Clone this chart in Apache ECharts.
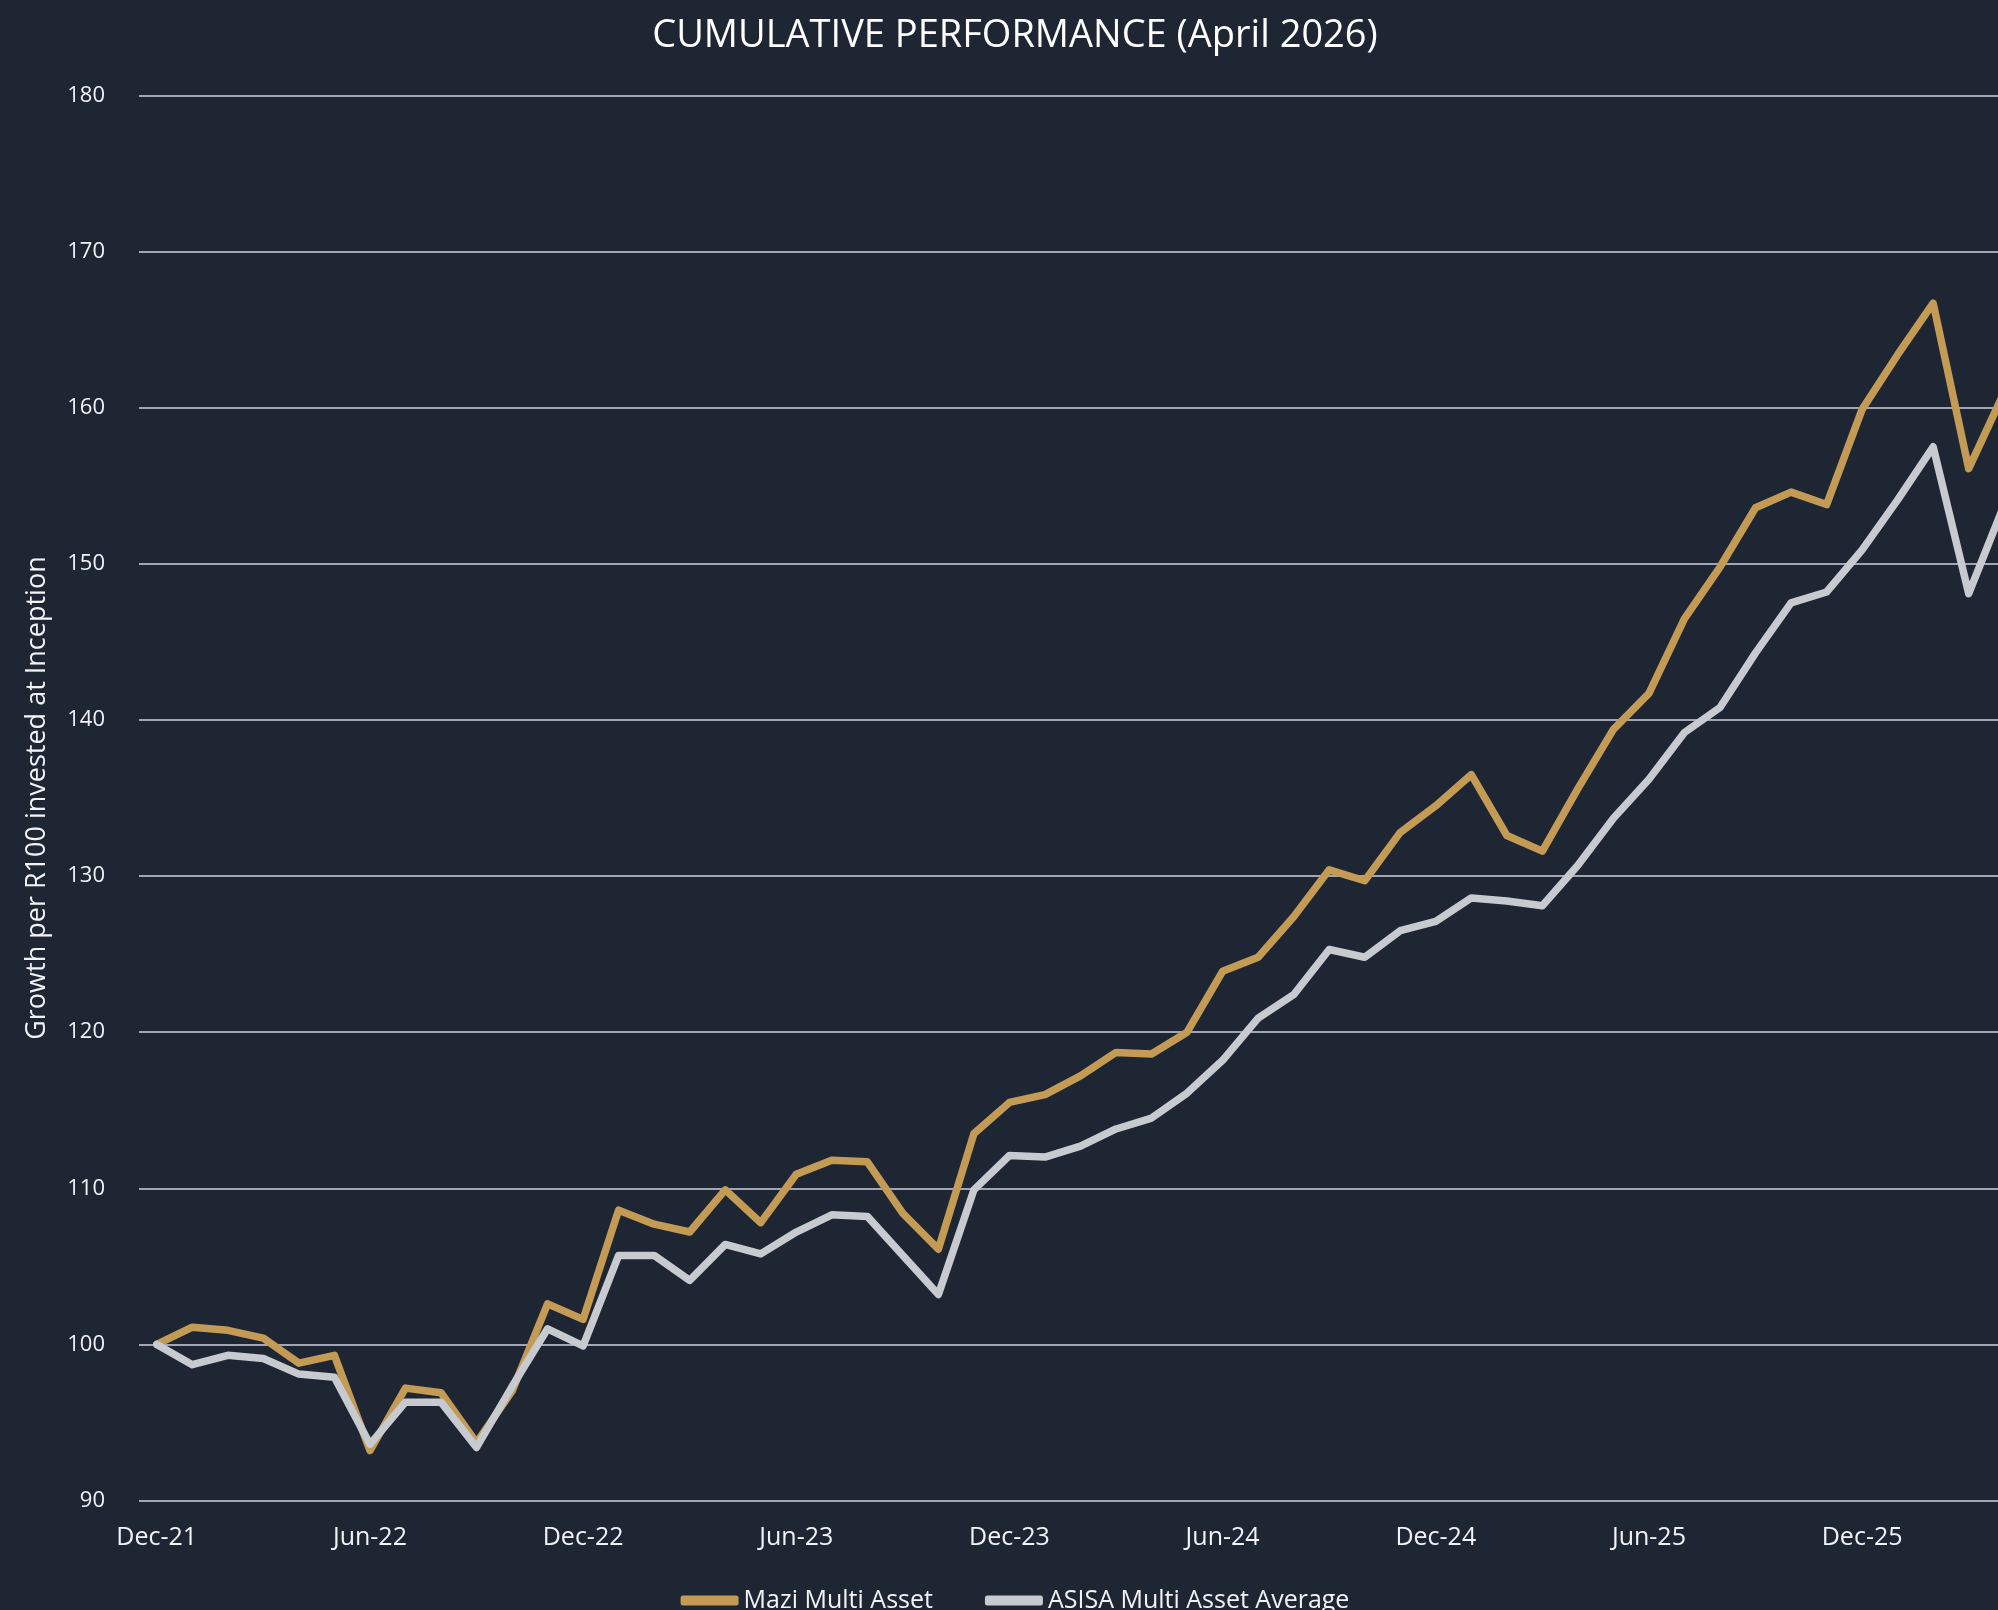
<!DOCTYPE html>
<html>
<head>
<meta charset="utf-8">
<title>Cumulative Performance</title>
<script src="https://cdn.jsdelivr.net/npm/echarts@6/dist/echarts.min.js"></script>
<style>
    html, body { margin: 0; padding: 0; background: #1e2633; overflow: hidden; }
    #chart { width: 2030px; height: 1610px; }
</style>
</head>
<body>
<div id="chart"></div>
<script>
// Month labels, Dec-21 .. Apr-26
const months = [
    'Dec-21', 'Jan-22', 'Feb-22', 'Mar-22', 'Apr-22', 'May-22', 'Jun-22', 'Jul-22', 'Aug-22', 'Sep-22', 'Oct-22', 'Nov-22',
    'Dec-22', 'Jan-23', 'Feb-23', 'Mar-23', 'Apr-23', 'May-23', 'Jun-23', 'Jul-23', 'Aug-23', 'Sep-23', 'Oct-23', 'Nov-23',
    'Dec-23', 'Jan-24', 'Feb-24', 'Mar-24', 'Apr-24', 'May-24', 'Jun-24', 'Jul-24', 'Aug-24', 'Sep-24', 'Oct-24', 'Nov-24',
    'Dec-24', 'Jan-25', 'Feb-25', 'Mar-25', 'Apr-25', 'May-25', 'Jun-25', 'Jul-25', 'Aug-25', 'Sep-25', 'Oct-25', 'Nov-25',
    'Dec-25', 'Jan-26', 'Feb-26', 'Mar-26', 'Apr-26'
];

// Growth per R100 invested
const maziMultiAsset = [
    100.0, 101.1, 100.9, 100.4, 98.8, 99.3, 93.2, 97.2, 96.9, 93.7, 97.0, 102.6,
    101.6, 108.6, 107.7, 107.2, 109.9, 107.8, 110.9, 111.8, 111.7, 108.4, 106.1, 113.5,
    115.5, 116.0, 117.2, 118.7, 118.6, 120.0, 123.9, 124.8, 127.4, 130.4, 129.7, 132.8,
    134.5, 136.5, 132.6, 131.6, 135.6, 139.4, 141.7, 146.5, 149.8, 153.6, 154.6, 153.8,
    159.9, 163.4, 166.7, 156.1, 161.0
];

const asisaAverage = [
    100.0, 98.7, 99.3, 99.1, 98.1, 97.9, 93.6, 96.3, 96.3, 93.4, 97.3, 101.0,
    99.9, 105.7, 105.7, 104.1, 106.4, 105.8, 107.2, 108.3, 108.2, 105.7, 103.2, 109.9,
    112.1, 112.0, 112.7, 113.8, 114.5, 116.1, 118.2, 120.9, 122.4, 125.3, 124.8, 126.5,
    127.1, 128.6, 128.4, 128.1, 130.7, 133.7, 136.2, 139.2, 140.8, 144.3, 147.5, 148.2,
    150.9, 154.1, 157.5, 148.1, 153.8
];

const FONT = '"Open Sans", sans-serif';
const TEXT = '#f2f3f6';
const GOLD = '#c39b55';
const GREY = '#c7cacf';

const chart = echarts.init(document.getElementById('chart'));
chart.setOption({
    backgroundColor: '#1e2633',
    animation: false,
    textStyle: { fontFamily: FONT },
    title: {
        text: 'CUMULATIVE PERFORMANCE (April 2026)',
        left: 'center',
        top: 12,
        textStyle: { color: '#ffffff', fontSize: 38, fontWeight: 'normal', fontFamily: FONT }
    },
    legend: {
        left: 'center',
        top: 1583,
        icon: 'roundRect',
        itemWidth: 58,
        itemHeight: 10,
        itemGap: 52,
        textStyle: { color: TEXT, fontSize: 25, fontFamily: FONT },
        data: ['Mazi Multi Asset', 'ASISA Multi Asset Average']
    },
    grid: {
        left: 139,
        right: 8,
        top: 95.6,
        bottom: 109.5,
        outerBoundsMode: 'none'
    },
    xAxis: {
        type: 'category',
        data: months,
        boundaryGap: true,
        axisLine: { show: false },
        axisTick: { show: false },
        axisLabel: { interval: 5, color: TEXT, fontSize: 25, margin: 25, fontFamily: FONT },
        splitLine: { show: false }
    },
    yAxis: {
        type: 'value',
        min: 90,
        max: 180,
        interval: 10,
        name: 'Growth per R100 invested at Inception',
        nameLocation: 'middle',
        nameGap: 88,
        nameRotate: 90,
        nameTextStyle: { color: TEXT, fontSize: 27, fontFamily: FONT },
        axisLine: { show: false },
        axisTick: { show: false },
        axisLabel: { color: TEXT, fontSize: 22, margin: 34, fontFamily: FONT },
        splitLine: { lineStyle: { color: '#cfd0e2', width: 1.5 } }
    },
    series: [
        {
            name: 'Mazi Multi Asset',
            type: 'line',
            data: maziMultiAsset,
            symbol: 'none',
            color: GOLD,
            lineStyle: { width: 7.5, color: GOLD, join: 'round', cap: 'round' }
        },
        {
            name: 'ASISA Multi Asset Average',
            type: 'line',
            data: asisaAverage,
            symbol: 'none',
            color: GREY,
            lineStyle: { width: 7.5, color: GREY, join: 'round', cap: 'round' }
        }
    ]
});
</script>
</body>
</html>
